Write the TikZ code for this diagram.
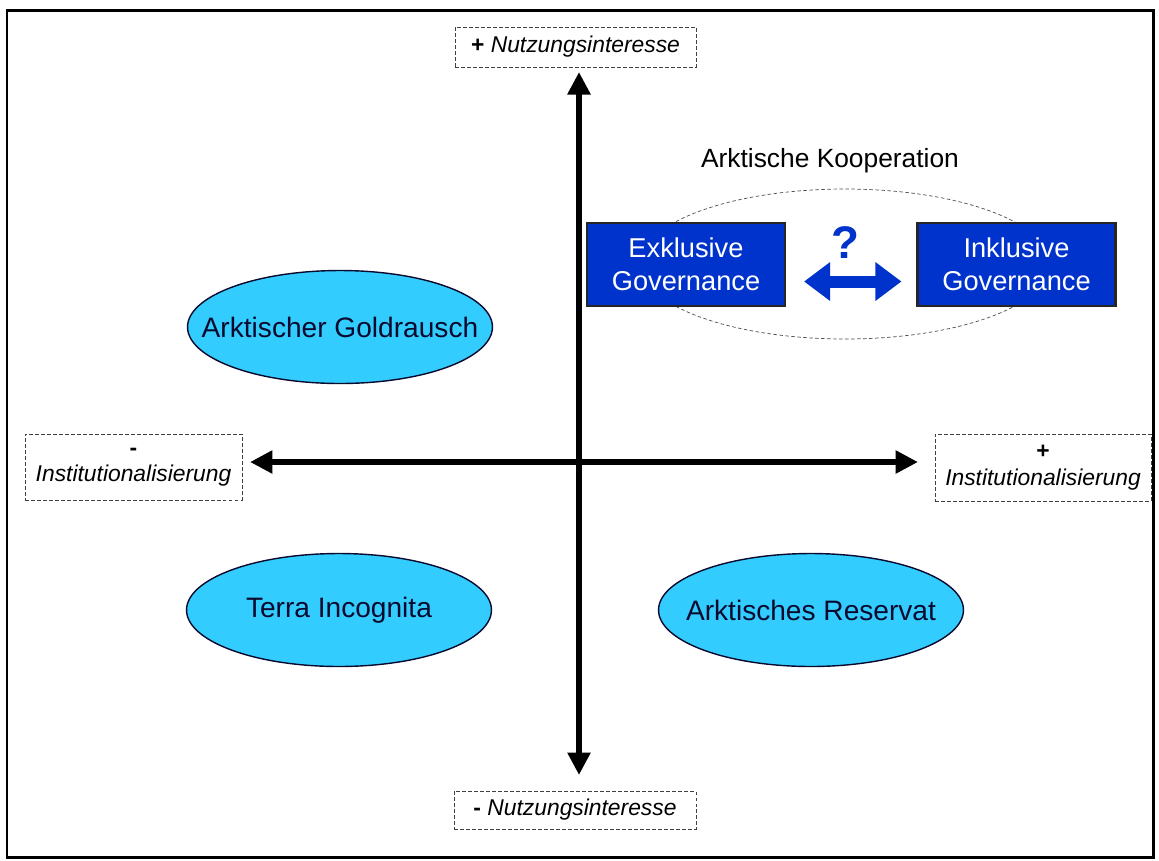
\documentclass[tikz,border=0pt]{standalone}
\usepackage{fontspec}
\setmainfont{Liberation Sans}
\usetikzlibrary{arrows.meta,shapes.geometric,positioning}
\definecolor{eisblau}{HTML}{33CCFF}
\definecolor{govblau}{HTML}{0033CC}
\definecolor{tinte}{HTML}{0A0A2E}

\begin{document}
\begin{tikzpicture}[x=0.02cm,y=-0.02cm,
    achse/.style={line width=0.12cm,{Triangle[length=0.45cm,width=0.44cm]}-{Triangle[length=0.45cm,width=0.44cm]}},
    pol/.style={draw=black!75,dash pattern=on 0.07cm off 0.05cm,line width=0.4pt,align=center,inner sep=0pt,font=\fontsize{13}{15}\selectfont},
    feld/.style={ellipse,draw=tinte,line width=0.8pt,fill=eisblau,text=tinte,inner xsep=-0.7cm,minimum width=6.1cm,minimum height=2.26cm,font=\fontsize{16}{19}\selectfont},
    gov/.style={draw=black!85,line width=1.2pt,fill=govblau,text=white,align=center,minimum width=3.96cm,minimum height=1.66cm,font=\fontsize{15.5}{18.5}\selectfont}]
  \useasboundingbox (0,0) rectangle (1159,860);
  \draw[line width=0.06cm] (7,10) rectangle (1153,857);

  % pole labels
  \node[pol,minimum width=4.82cm,minimum height=0.8cm] (nplus) at (575.5,47) {\textbf{+} \textit{Nutzungsinteresse}};
  \node[pol,minimum width=4.84cm,minimum height=0.76cm] (nminus) at (575,810) {\textbf{-} \textit{Nutzungsinteresse}};
  \node[pol,minimum width=4.34cm,minimum height=1.32cm] (iminus) at (133.5,467) {\textbf{-}\\\textit{Institutionalisierung}};
  \node[pol,minimum width=4.32cm,minimum height=1.34cm] (iplus) at (1043,467.5) {\textbf{+}\\\textit{Institutionalisierung}};

  % axes
  \coordinate (oben) at (579,72);
  \coordinate (unten) at (579,775);
  \coordinate (links) at (250,462);
  \coordinate (rechts) at (918,462);
  \draw[achse] (unten) -- (oben);
  \draw[achse] (links) -- (rechts);

  % quadrants
  \node[feld] (gold) at (340,327) {Arktischer Goldrausch};
  \node[feld] (terra) at (339,610) {Terra Incognita};
  \node[feld] (reservat) at (811,610) {Arktisches Reservat};

  \node[ellipse,draw=black!70,dash pattern=on 0.07cm off 0.05cm,line width=0.4pt,minimum width=8.2cm,minimum height=3cm] (koop) at (845,264) {};
  \node[font=\fontsize{15}{18}\selectfont,above=0.18cm of koop,xshift=-0.3cm] (koopname) {Arktische Kooperation};
  \node[gov] (exkl) at (686,264.5) {Exklusive\\Governance};
  \node[gov] (inkl) at (1016.5,264.5) {Inklusive\\Governance};
  \draw[govblau,line width=0.24cm,{Triangle[length=0.52cm,width=0.74cm]}-{Triangle[length=0.52cm,width=0.74cm]},shorten <=0.36cm,shorten >=0.3cm] ([yshift=-0.34cm]exkl.east) -- ([yshift=-0.34cm]inkl.west);
  \node[text=govblau,font=\fontsize{26}{30}\selectfont\bfseries] (frage) at (845,243) {?};
\end{tikzpicture}
\end{document}
